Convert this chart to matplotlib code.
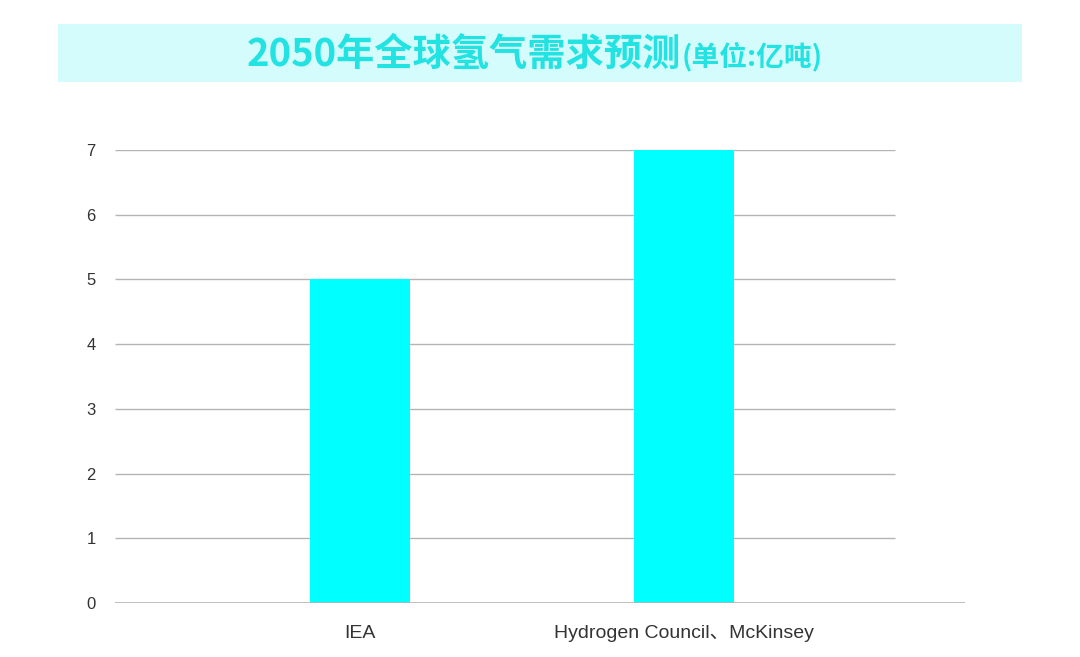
import matplotlib
matplotlib.use('Agg')
import matplotlib.pyplot as plt
from matplotlib.patches import Rectangle

categories = ['IEA', 'Hydrogen Council、McKinsey']
demand = [5, 7]
yticks = [0, 1, 2, 3, 4, 5, 6, 7]
title_main = '2050年全球氢气需求预测'
title_unit = '(单位:亿吨)'

fonts = ['Liberation Sans', 'Noto Sans CJK SC', 'DejaVu Sans']
plt.rcParams['font.family'] = fonts

W, H = 1080, 657
fig = plt.figure(figsize=(W / 100, H / 100), dpi=100)
fig.patch.set_facecolor('white')

# title band
fig.patches.append(Rectangle((58 / W, 1 - 82 / H), (1022 - 58) / W, 58 / H,
                             transform=fig.transFigure, facecolor='#D4FCFC',
                             edgecolor='none', zorder=0))
fig.text(681 / W, 1 - 54 / H, title_main, ha='right', va='center',
         fontsize=27.5, fontweight='bold', color='#22E2E2',
         family=['Noto Sans CJK SC', 'DejaVu Sans'])
fig.text(682 / W, 1 - 57 / H, title_unit, ha='left', va='center',
         fontsize=20, fontweight='bold', color='#22E2E2',
         family=['Noto Sans CJK SC', 'DejaVu Sans'])

ax = fig.add_axes([115 / W, 1 - 603 / H, (965 - 115) / W, (603 - 150) / H])
x = list(range(len(categories)))
ax.bar(x, demand, width=100 / 324, color='#00FFFF', zorder=3)

xmin, xmax = -245 / 324, 1 + 281 / 324
grid_end = 1 + 211 / 324
ax.set_xlim(xmin, xmax)
ax.set_ylim(0, 7)
ax.hlines(yticks[1:], xmin, grid_end, colors='#B4B4B4', linewidth=1, zorder=1)
ax.axhline(0, color='#B4B4B4', linewidth=1.2, zorder=4)

ax.set_xticks(x)
ax.set_xticklabels(categories, fontsize=14, color='#333333')
ax.set_yticks(yticks)
ax.set_yticklabels([str(v) for v in yticks], fontsize=12, color='#333333')
ax.tick_params(axis='y', length=0, pad=14)
ax.tick_params(axis='x', length=0, pad=16)
for s in ax.spines.values():
    s.set_visible(False)

fig.savefig('out.png', dpi=100, facecolor='white')
